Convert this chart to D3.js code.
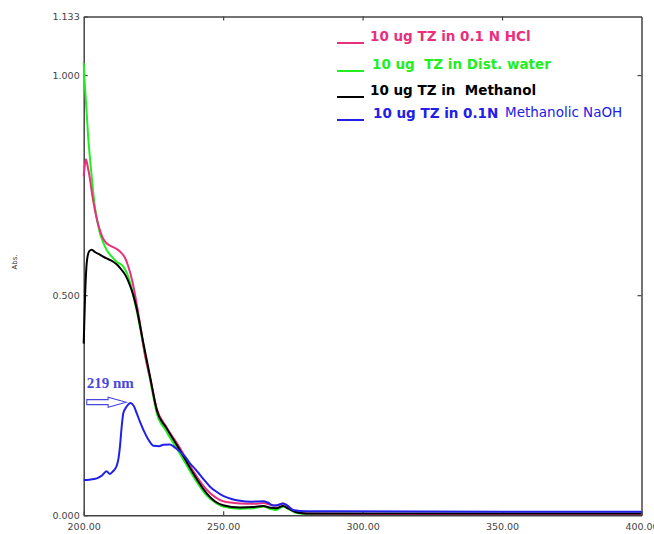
<!DOCTYPE html>
<html><head><meta charset="utf-8">
<script src="https://cdn.jsdelivr.net/npm/d3@7"></script>
<style>
html,body{margin:0;padding:0;background:#fff;}
svg{display:block;}
text{white-space:pre;}
</style></head>
<body>
<svg id="chart" width="654" height="534"></svg>
<script>
// ---------- data ----------
const xTicks = [200, 250, 300, 350, 400];
const yTicks = [0, 0.5, 1.0, 1.133];
const yLabel = "Abs.";

const seriesNames = ["10 ug TZ in 0.1 N HCl", "10 ug  TZ in Dist. water", "10 ug TZ in  Methanol", "10 ug TZ in 0.1N"];
const seriesExtra = ["", "", "", "Methanolic NaOH"];
const seriesColors = ["#e8307c", "#22ee22", "#000000", "#2020e8"];

const hclNm  = [200,200.4,200.8,201.5,202.3,203,204,205,205.8,207,208.2,210,211.8,213.5,214.8,216,217.5,219,220.5,222,223.8,226.2,229.7,234.5,239.3,244.1,247,250,256,261,264.5,267,269,271.5,273,276,280,300,350,400];
const hclAbs = [0.77,0.795,0.809,0.79,0.762,0.73,0.694,0.665,0.648,0.628,0.618,0.611,0.605,0.596,0.585,0.565,0.53,0.48,0.423,0.362,0.312,0.242,0.2,0.153,0.1,0.058,0.042,0.032,0.027,0.026,0.028,0.024,0.022,0.027,0.022,0.008,0.004,0.003,0.003,0.003];

const waterNm  = [200,200.5,201,201.6,202.3,203,204,205,205.8,207,208.2,210,211.8,214.2,215.5,217,219,221.4,223.8,226.2,229.7,234.5,239.3,244.1,247,250,256,261,264.5,267,269,271.5,273,276,280,300,350,400];
const waterAbs = [1.027,0.97,0.921,0.86,0.807,0.76,0.701,0.665,0.641,0.62,0.603,0.588,0.576,0.565,0.55,0.52,0.465,0.385,0.308,0.232,0.19,0.14,0.088,0.045,0.03,0.02,0.015,0.016,0.02,0.014,0.012,0.02,0.016,0.006,0.003,0.003,0.003,0.003];

const methNm  = [200,200.5,201.2,202,202.9,204,205.8,208,210.6,212,213,215,216.6,218,219,221.4,223.8,226.2,229.7,234.5,239.3,244.1,247,250,256,261,264.4,267,269,271.5,273.5,277,282,300,350,400];
const methAbs = [0.39,0.5,0.58,0.6,0.603,0.598,0.592,0.584,0.576,0.569,0.562,0.545,0.522,0.495,0.469,0.391,0.315,0.239,0.198,0.148,0.095,0.05,0.032,0.023,0.018,0.019,0.021,0.017,0.016,0.021,0.015,0.006,0.004,0.004,0.004,0.004];

const naohNm  = [200,202,204.7,206.5,208.2,209.4,210.5,211.8,212.5,213,213.6,214.2,215.4,216.8,218,219,220.2,221.4,223,225,227,228.5,230.9,232.5,234.5,236.5,238.1,240,241.7,243.5,245.3,247.5,250,253,256,260,264.4,266,268,270,271.5,273,275,280,290,350,400];
const naohAbs = [0.08,0.081,0.084,0.09,0.1,0.094,0.1,0.112,0.13,0.156,0.2,0.232,0.247,0.255,0.248,0.232,0.212,0.194,0.174,0.158,0.157,0.16,0.161,0.155,0.145,0.132,0.118,0.105,0.092,0.078,0.065,0.054,0.044,0.037,0.033,0.031,0.032,0.029,0.022,0.024,0.027,0.022,0.012,0.009,0.009,0.008,0.008];

const peakLabel = "219 nm";
const arrowTailNm = 201.1, arrowTipNm = 215.2, arrowAbs = 0.257;

// ---------- layout ----------
const svg = d3.select("#chart");
const m = {left: 83.7, right: 641.5, top: 16.5, bottom: 515.3};
const x = d3.scaleLinear().domain([200, 400]).range([m.left, m.right]);
const y = d3.scaleLinear().domain([0, 1.133]).range([m.bottom, m.top]);

const axisColor = "#444";
const labelFont = "DejaVu Sans, sans-serif";

function styleAxis(g, showText) {
  g.selectAll(".domain").attr("stroke", axisColor).attr("stroke-width", 1.5);
  g.selectAll(".tick line").attr("stroke", axisColor).attr("stroke-width", 1.2);
  g.selectAll(".tick text").attr("fill", "#444").style("font-family", labelFont)
    .style("font-size", "9.5px").style("display", showText ? null : "none");
}

svg.append("g").attr("transform", `translate(0,${m.bottom})`)
  .call(d3.axisBottom(x).tickValues(xTicks).tickFormat(d3.format(".2f")).tickSizeInner(-4).tickSizeOuter(0).tickPadding(8))
  .call(g => styleAxis(g, true));
svg.append("g").attr("transform", `translate(0,${m.top})`)
  .call(d3.axisTop(x).tickValues(xTicks.slice(1, -1)).tickSizeInner(-4).tickSizeOuter(0))
  .call(g => styleAxis(g, false));
svg.append("g").attr("transform", `translate(${m.left},0)`)
  .call(d3.axisLeft(y).tickValues(yTicks).tickFormat(d3.format(".3f")).tickSizeInner(-4).tickSizeOuter(0).tickPadding(4))
  .call(g => styleAxis(g, true));
svg.append("g").attr("transform", `translate(${m.right},0)`)
  .call(d3.axisRight(y).tickValues(yTicks.slice(1, 3)).tickSizeInner(-4).tickSizeOuter(0))
  .call(g => styleAxis(g, false));

svg.append("text").attr("transform", `translate(17,262) rotate(-90)`)
  .attr("text-anchor", "middle").attr("fill", "#333")
  .style("font-family", labelFont).style("font-size", "7px").text(yLabel);

// ---------- curves ----------
const line = d3.line().x(d => x(d[0])).y(d => y(d[1])).curve(d3.curveMonotoneX);
const series = [
  {nm: waterNm, abs: waterAbs, color: seriesColors[1]},
  {nm: hclNm, abs: hclAbs, color: seriesColors[0]},
  {nm: methNm, abs: methAbs, color: seriesColors[2]},
  {nm: naohNm, abs: naohAbs, color: seriesColors[3]}
];
svg.append("g").selectAll("path").data(series).join("path")
  .attr("d", s => line(d3.zip(s.nm, s.abs)))
  .attr("fill", "none").attr("stroke", s => s.color).attr("stroke-width", 2)
  .attr("stroke-linejoin", "round");

// ---------- legend ----------
const legX = 337, legY0 = 42, legDy = [0, 28, 54, 77];
const leg = svg.append("g");
seriesNames.forEach((name, i) => {
  const yy = legY0 + legDy[i];
  leg.append("line").attr("x1", legX).attr("x2", legX + 27)
    .attr("y1", yy + 1).attr("y2", yy + 1)
    .attr("stroke", seriesColors[i]).attr("stroke-width", 2);
  leg.append("text").attr("x", legX + 33 + (i === 3 ? 3 : (i === 1 ? 2 : 0))).attr("y", yy - 1)
    .attr("fill", seriesColors[i]).style("font-family", labelFont)
    .style("font-weight", "bold").style("font-size", "13.5px").text(name);
  if (seriesExtra[i]) {
    leg.append("text").attr("x", 505).attr("y", yy - 2)
      .attr("fill", seriesColors[i]).style("font-family", labelFont)
      .style("font-size", "13.5px").text(seriesExtra[i]);
  }
});

// ---------- annotation ----------
const annColor = "#4848e0";
const ax0 = x(arrowTailNm), ax1 = x(arrowTipNm), ay = y(arrowAbs);
const headW = 18;
svg.append("path")
  .attr("d", `M${ax0},${ay-2.5} L${ax1-headW},${ay-2.5} L${ax1-headW},${ay-5} L${ax1},${ay} L${ax1-headW},${ay+5} L${ax1-headW},${ay+2.5} L${ax0},${ay+2.5} Z`)
  .attr("fill", "#fff").attr("stroke", annColor).attr("stroke-width", 1.1);
svg.append("text").attr("x", ax0).attr("y", ay - 14)
  .attr("fill", annColor).style("font-family", "Liberation Serif, serif")
  .style("font-weight", "bold").style("font-size", "15px").text(peakLabel);
</script>
</body></html>
